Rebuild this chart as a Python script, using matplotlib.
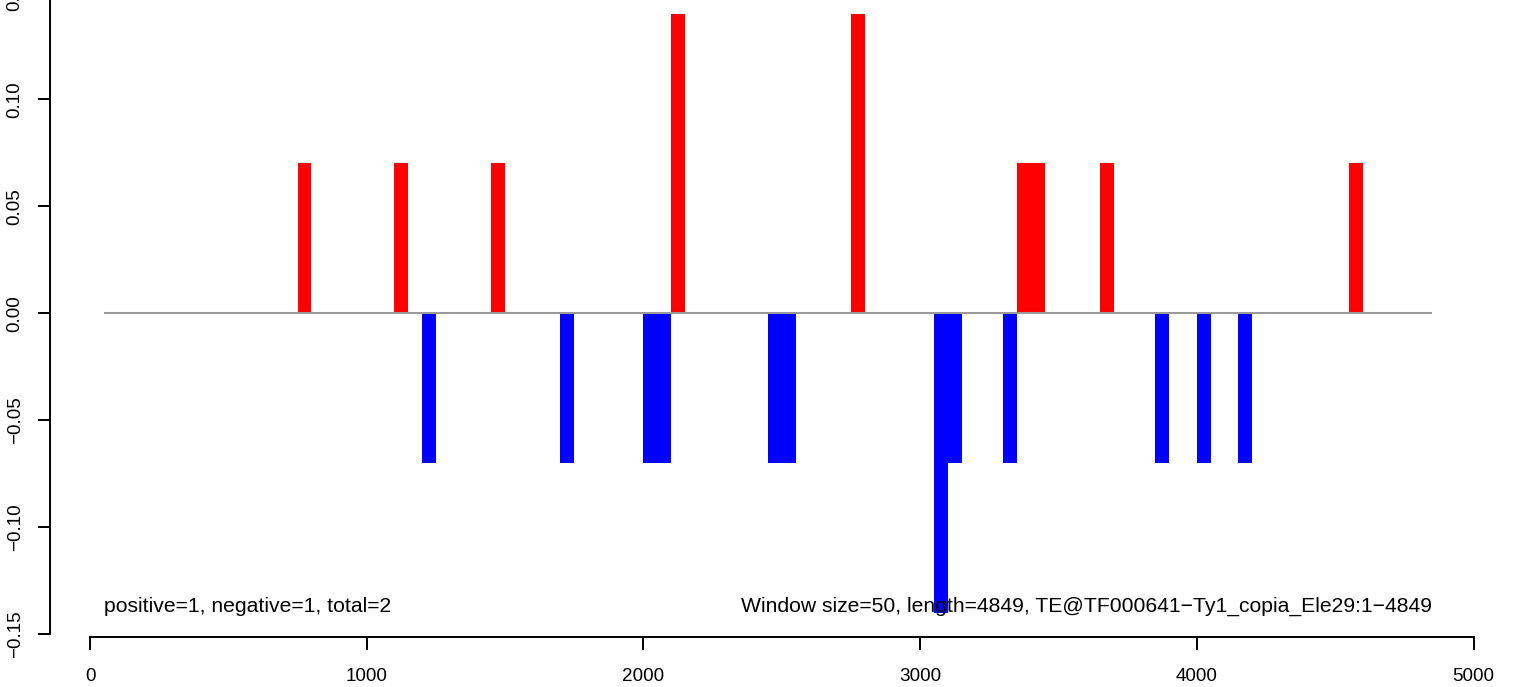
import matplotlib
matplotlib.use("Agg")
import matplotlib.pyplot as plt

plt.rcParams['font.family'] = ['Liberation Sans', 'DejaVu Sans']

# Data
window_size = 50
seq_length = 4849
pos_starts = [750, 1100, 1450, 2100, 2750, 3350, 3400, 3650, 4550]
pos_vals = [0.07, 0.07, 0.07, 0.14, 0.14, 0.07, 0.07, 0.07, 0.07]
neg_starts = [1200, 1700, 2000, 2050, 2450, 2500, 3050, 3100, 3300, 3850, 4000, 4150]
neg_vals = [-0.07, -0.07, -0.07, -0.07, -0.07, -0.07, -0.14, -0.07, -0.07, -0.07, -0.07, -0.07]
x_ticks = [0, 1000, 2000, 3000, 4000, 5000]
y_ticks = [-0.15, -0.10, -0.05, 0.00, 0.05, 0.10, 0.15]
y_labels = ["\u22120.15", "\u22120.10", "\u22120.05", "0.00", "0.05", "0.10", "0.15"]
left_text = "positive=1, negative=1, total=2"
right_text = "Window size=50, length=4849, TE@TF000641\u2212Ty1_copia_Ele29:1\u22124849"

W, H = 1513, 687
fig = plt.figure(figsize=(W / 100, H / 100), dpi=100)

# pixel geometry
px_left, px_right = 50, 1490
px_bottom, px_top = 637, -10.5
ax = fig.add_axes([px_left / W, (H - px_bottom) / H,
                   (px_right - px_left) / W, (px_bottom - px_top) / H])

# x mapping: 0 at px 90, 276.7 px per 1000
xs = 0.2767
ax.set_xlim((px_left - 90) / xs, (px_right - 90) / xs)
ax.set_ylim(-0.1513, 0.1513)

ax.bar(pos_starts, pos_vals, width=window_size, align='edge', color='#FF0000',
       linewidth=0, antialiased=False, zorder=2)
ax.bar(neg_starts, neg_vals, width=window_size, align='edge', color='#0000FF',
       linewidth=0, antialiased=False, zorder=2)
ax.hlines(0, window_size, seq_length, color='#9a9a9a', linewidth=1.5, zorder=3)

ax.text(window_size, -0.1395, left_text, ha='left', va='baseline', fontsize=15.2, zorder=4)
ax.text(seq_length, -0.1395, right_text, ha='right', va='baseline', fontsize=15.2, zorder=4)

for s in ['top', 'right']:
    ax.spines[s].set_visible(False)
ax.spines['left'].set_bounds(-0.15, 0.15)
ax.spines['bottom'].set_bounds(0, 5000)
for s in ['left', 'bottom']:
    ax.spines[s].set_linewidth(1.4)

ax.set_xticks(x_ticks)
ax.set_xticklabels([str(v) for v in x_ticks])
ax.set_yticks(y_ticks)
ax.set_yticklabels(y_labels, rotation=90, va='center')
ax.tick_params(axis='both', direction='out', length=9, width=1.4, labelsize=13.6)
ax.tick_params(axis='x', pad=13)
ax.tick_params(axis='y', pad=10)

fig.savefig("out.png", dpi=100)
